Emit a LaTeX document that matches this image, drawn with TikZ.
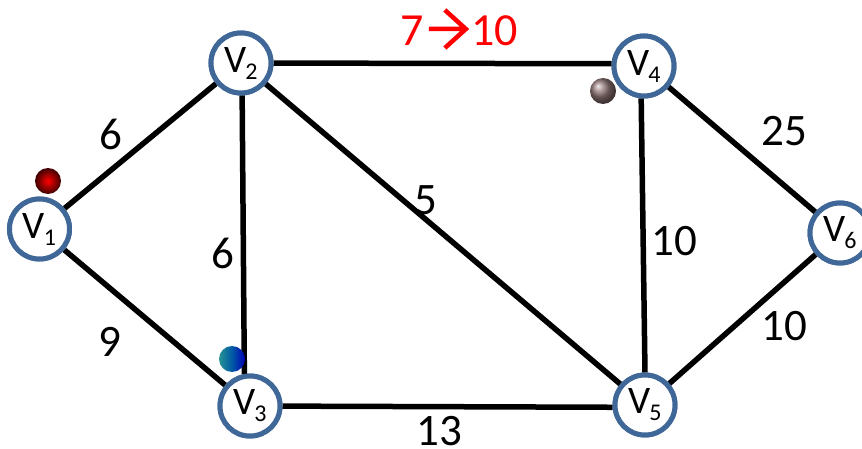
\documentclass[tikz,border=0pt]{standalone}
\usepackage{fontspec}
\setmainfont{Carlito}
\begin{document}
\begin{tikzpicture}[x=1pt,y=-1pt,
  vert/.style={circle,draw=vblue,line width=5pt,fill=white,minimum size=60pt,inner sep=0pt,font=\fontsize{39}{39}\selectfont},
  edge/.style={line width=5.5pt,black},
  wlabel/.style={font=\fontsize{45}{45}\selectfont,inner sep=0pt,text=black},
  ballnode/.style={circle,minimum size=26pt,inner sep=0pt}]
\definecolor{vblue}{HTML}{3F6797}
\useasboundingbox (0,0) rectangle (862,449);
\node[vert] (v1) at (39.5,229) {};
\node[vert] (v2) at (241,63) {};
\node[vert] (v3) at (250,406) {};
\node[vert] (v4) at (644,66) {};
\node[vert] (v5) at (645,405) {};
\node[vert] (v6) at (840,233) {};
\draw[edge] (v1) -- (v2);
\draw[edge] (v1) -- (v3);
\draw[edge] (v2.-88) -- (v3.100);
\draw[edge] (v2) -- (v4.176);
\draw[edge] (v2) -- (v5);
\draw[edge] (v3) -- (v5.184);
\draw[edge] (v4.-95) -- (v5.90);
\draw[edge] (v4) -- (v6);
\draw[edge] (v5) -- (v6);
\foreach \n/\s in {v1/1,v2/2,v3/3,v4/4,v5/5,v6/6}
  \node[vert] at (\n) {\raisebox{-1pt}{V\kern-1pt\raisebox{-7pt}{\fontsize{24}{24}\selectfont\s}}};
\node[wlabel] (w12) at (111,134) {6};
\node[wlabel] (w13) at (110,342) {9};
\node[wlabel] (w23) at (223,253) {6};
\node[wlabel] (w25) at (426,200) {5};
\node[wlabel] (w35) at (439,431) {13};
\node[wlabel] (w45) at (674,241) {10};
\node[wlabel] (w46) at (784,131) {25};
\node[wlabel] (w56) at (784,326) {10};
\node[wlabel,text=red,font=\fontsize{46}{46}\selectfont] (w24) at (459,29) {7\kern3pt\tikz[baseline=0pt,x=1pt,y=-1pt]\draw[red,line width=4.5pt] (0,-17)--(37,-17) (16,-36)--(37,-17)--(16,2);\kern3pt 10};
\node[ballnode,inner color=red,outer color=red!25!black] (b1) at (48,181) {};
\node[ballnode,left color=teal!85!white,right color=blue!70!black,middle color=teal!70!blue] (b3) at (232,359) {};
\node[ballnode,ball color=gray!90!red] (b4) at (603,91) {};
\end{tikzpicture}
\end{document}
